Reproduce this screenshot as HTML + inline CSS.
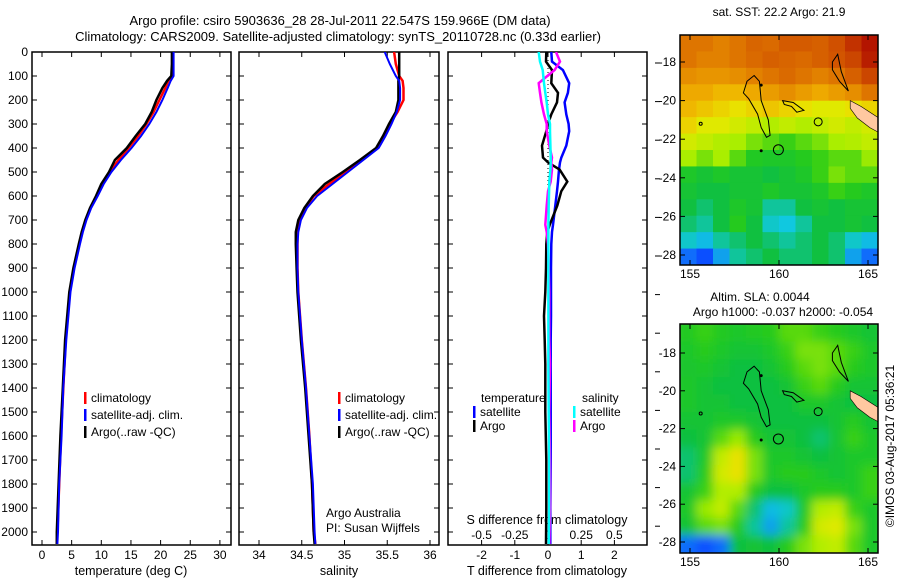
<!DOCTYPE html>
<html><head><meta charset="utf-8"><style>
html,body{margin:0;padding:0;background:#fff}
svg{display:block;font-family:"Liberation Sans",sans-serif}
</style></head><body>
<svg id="fig" width="900" height="580" viewBox="0 0 900 580">
<defs>
<clipPath id="clipTop"><rect x="680" y="35" width="198" height="230"/></clipPath>
<clipPath id="clipBot"><rect x="680" y="324" width="198" height="229"/></clipPath>
<clipPath id="clipP1"><rect x="32" y="52" width="199" height="493"/></clipPath>
<clipPath id="clipP2"><rect x="239" y="52" width="200" height="493"/></clipPath>
<clipPath id="clipP3"><rect x="448" y="52" width="199" height="493"/></clipPath>
<filter id="blur" x="-10%" y="-10%" width="120%" height="120%"><feGaussianBlur stdDeviation="5"/></filter>
</defs>
<g id="root"></g>
</svg>
<script>
// ---------- data ----------
const depths = [0,50,100,120,150,200,250,300,350,400,450,500,550,600,650,700,750,800,900,1000,1200,1400,1600,1800,2000,2050];
const tempClim = [22.0,22.0,21.9,21.3,20.8,19.8,18.8,17.6,16.2,14.6,12.9,11.4,10.2,9.2,8.2,7.4,6.8,6.3,5.4,4.7,4.0,3.6,3.2,2.9,2.6,2.5];
const tempSat  = [22.2,22.2,22.2,21.7,21.2,20.3,19.3,18.1,16.7,15.1,13.3,11.7,10.4,9.4,8.3,7.5,6.9,6.4,5.5,4.8,4.1,3.6,3.3,2.9,2.7,2.6];
const tempArgo = [21.9,21.9,21.8,21.1,20.3,19.3,18.5,17.4,15.8,14.3,12.3,11.3,10.0,9.1,8.1,7.3,6.7,6.2,5.3,4.6,3.9,3.5,3.1,2.8,2.5,2.5];
const salClim = [35.58,35.60,35.64,35.68,35.69,35.69,35.62,35.53,35.46,35.38,35.20,35.02,34.82,34.64,34.54,34.48,34.45,34.45,34.45,34.46,34.50,34.55,34.59,34.62,34.64,34.66];
const salSat  = [35.47,35.53,35.60,35.64,35.65,35.65,35.61,35.55,35.48,35.40,35.22,35.04,34.86,34.68,34.56,34.49,34.46,34.45,34.45,34.46,34.50,34.55,34.59,34.63,34.65,34.66];
const salArgo = [35.64,35.64,35.64,35.63,35.63,35.63,35.60,35.52,35.45,35.37,35.18,34.98,34.77,34.63,34.53,34.46,34.43,34.43,34.44,34.45,34.49,34.54,34.58,34.62,34.64,34.65];
const diffDepths = [0,40,75,130,170,210,260,300,330,390,440,460,490,540,580,640,720,750,800,900,1000,1100,1200,1300,1500,1700,1900,2050];
const tDiffSat  = [0.10,0.12,0.45,0.64,0.60,0.50,0.55,0.62,0.64,0.55,0.40,0.36,0.33,0.30,0.27,0.22,0.15,0.12,0.10,0.09,0.09,0.09,0.08,0.08,0.08,0.08,0.07,0.07];
const tDiffArgo = [-0.05,-0.06,0.12,0.10,0.30,0.27,0.10,0.00,-0.05,-0.18,-0.15,0.00,0.35,0.58,0.40,0.28,0.05,-0.02,-0.05,-0.06,-0.08,-0.12,-0.10,-0.08,-0.08,-0.05,-0.05,-0.06];
const sDiffSat  = [-0.07,-0.06,-0.04,-0.03,-0.02,-0.01,0.00,0.015,0.015,0.018,0.020,0.020,0.018,0.010,0.008,0.005,0.003,0.003,0.003,0.003,0.003,0.003,0.003,0.003,0.005,0.008,0.008,0.005];
const sDiffArgo = [0.06,0.09,0.05,-0.07,-0.06,-0.05,-0.03,-0.01,-0.01,0.01,0.03,0.025,0.03,0.02,0.00,-0.01,-0.02,-0.01,0.00,0.005,0.01,0.01,0.01,0.015,0.01,0.015,0.015,0.01];
const depthTicks = [0,100,200,300,400,500,600,700,800,900,1000,1100,1200,1300,1400,1500,1600,1700,1800,1900,2000];
const tempTicks = [0,5,10,15,20,25,30];
const salTicks = [34,34.5,35,35.5,36];
const salTickLabels = ["34","34.5","35","35.5","36"];
const tDiffTicks = [-2,-1,0,1,2];
const sDiffTicks = [-0.5,-0.25,0,0.25,0.5];
const sDiffTickLabels = ["-0.5","-0.25","0","0.25","0.5"];
const latTicks = [-18,-20,-22,-24,-26,-28];
const lonTicks = [155,160,165];
const sstGrid = [
[.80,.80,.78,.80,.83,.82,.85,.85,.84,.87,.90,.93],
[.80,.78,.78,.80,.82,.84,.83,.82,.84,.86,.88,.92],
[.76,.75,.75,.76,.78,.80,.82,.80,.78,.80,.84,.88],
[.72,.72,.70,.70,.72,.74,.76,.74,.72,.74,.76,.80],
[.70,.68,.66,.64,.66,.68,.66,.64,.62,.62,.64,.66],
[.66,.62,.62,.60,.58,.56,.58,.56,.58,.60,.58,.60],
[.60,.58,.56,.55,.52,.50,.48,.50,.52,.55,.56,.58],
[.55,.52,.55,.50,.45,.44,.44,.46,.48,.50,.50,.54],
[.44,.42,.44,.42,.42,.40,.42,.44,.48,.52,.50,.50],
[.42,.40,.40,.42,.42,.44,.42,.42,.44,.48,.46,.44],
[.40,.38,.40,.44,.42,.36,.36,.40,.42,.40,.42,.42],
[.38,.36,.40,.46,.40,.34,.33,.36,.40,.40,.42,.40],
[.34,.32,.36,.38,.40,.38,.36,.38,.40,.38,.34,.32],
[.26,.22,.30,.36,.38,.40,.38,.38,.40,.38,.30,.26]];
const slaGrid = [
[.45,.48,.45,.44,.45,.46,.50,.50,.48,.46,.44,.42],
[.44,.46,.44,.42,.42,.44,.48,.52,.52,.50,.48,.44],
[.43,.44,.42,.40,.40,.42,.46,.50,.52,.50,.46,.44],
[.44,.42,.40,.40,.40,.40,.42,.48,.50,.46,.42,.42],
[.44,.42,.42,.40,.40,.40,.40,.44,.44,.42,.40,.40],
[.42,.42,.44,.44,.42,.40,.40,.40,.40,.42,.46,.42],
[.40,.42,.50,.54,.46,.42,.42,.40,.38,.42,.48,.44],
[.38,.44,.58,.64,.52,.44,.44,.42,.40,.42,.44,.44],
[.38,.46,.60,.64,.52,.44,.46,.46,.44,.42,.44,.48],
[.42,.48,.56,.56,.46,.40,.40,.44,.46,.46,.44,.48],
[.44,.54,.58,.50,.38,.32,.34,.44,.56,.58,.48,.44],
[.42,.50,.52,.46,.36,.30,.36,.46,.60,.62,.52,.44],
[.26,.22,.26,.40,.42,.40,.46,.52,.56,.58,.50,.44]];
// ---------- helpers ----------
const NS="http://www.w3.org/2000/svg";
const root=document.getElementById('root');
function mk(tag,attrs,parent){const e=document.createElementNS(NS,tag);for(const k in attrs)e.setAttribute(k,attrs[k]);(parent||root).appendChild(e);return e;}
function txt(x,y,s,anchor,size,parent){const t=mk('text',{x:x,y:y,'text-anchor':anchor||'start','font-size':size||12,fill:'#000'},parent);t.textContent=s;return t;}
const yD=d=>52+d*0.24;
const xT=v=>42+v*5.93;
const xS=v=>259+(v-34)*85.5;
const xTd=v=>548+v*33.2;
const xSd=v=>548+v*4*33.2;
function line(xs,ys,color,w,parent,name){
  let p='';for(let i=0;i<xs.length;i++)p+=(i?'L':'M')+xs[i].toFixed(1)+','+ys[i].toFixed(1);
  const e=mk('path',{d:p,fill:'none',stroke:color,'stroke-width':w},parent);
  
  
  return e;}
// titles
let t=txt(340,25,'Argo profile: csiro 5903636_28 28-Jul-2011 22.547S 159.966E (DM data)','middle',13);


t=txt(338,41,'Climatology: CARS2009. Satellite-adjusted climatology: synTS_20110728.nc (0.33d earlier)','middle',13);


// panels
const panels=[[32,231,'temperature-panel'],[239,439,'salinity-panel'],[448,647,'difference-panel']];
panels.forEach(p=>{
  const g=mk('g',{});
  
  
  mk('rect',{x:p[0],y:52,width:p[1]-p[0],height:493,fill:'#fff',stroke:'#000','stroke-width':1.5},g);
  depthTicks.forEach(d=>{mk('line',{x1:p[0],x2:p[0]+5,y1:yD(d),y2:yD(d),stroke:'#000'},g);mk('line',{x1:p[1]-5,x2:p[1],y1:yD(d),y2:yD(d),stroke:'#000'},g);});
});
depthTicks.forEach(d=>{const e=txt(28,yD(d)+4,String(d),'end',12);
  
  });
for(let y=63;y<545;y+=38.6){mk('line',{x1:655,x2:660,y1:y,y2:y,stroke:'#000'});}
// x ticks
function xticks(vals,labels,fx,p,y0,name){vals.forEach((v,i)=>{const x=fx(v);
  mk('line',{x1:x,x2:x,y1:52,y2:57,stroke:'#000'});mk('line',{x1:x,x2:x,y1:540,y2:545,stroke:'#000'});
  const e=txt(x,y0,labels[i],'middle',12);
  
  });}
xticks(tempTicks,tempTicks.map(String),xT,0,559,'temperature-tick-label');
xticks(salTicks,salTickLabels,xS,1,559,'salinity-tick-label');
xticks(tDiffTicks,tDiffTicks.map(String),xTd,2,559,'t-diff-tick-label');
sDiffTicks.forEach((v,i)=>{const e=txt(xSd(v),539,sDiffTickLabels[i],'middle',12);
  
  });
[[131,'temperature (deg C)','x-axis-title-temperature'],[339,'salinity','x-axis-title-salinity'],[547,'T difference from climatology','x-axis-title-t-diff']].forEach(a=>{
  const e=txt(a[0],575,a[1],'middle',12.5);
  
  });
t=txt(547,524,'S difference from climatology','middle',12.5);


// series
const g1=mk('g',{'clip-path':'url(#clipP1)'});
const ys=depths.map(yD);
line(tempClim.map(xT),ys,'#ff0000',2.5,g1,'temperature-climatology-line');
line(tempArgo.map(xT),ys,'#000',2.5,g1,'temperature-argo-line');
line(tempSat.map(xT),ys,'#0000ff',2,g1,'temperature-satellite-line');
const g2=mk('g',{'clip-path':'url(#clipP2)'});
line(salClim.map(xS),ys,'#ff0000',2.5,g2,'salinity-climatology-line');
line(salArgo.map(xS),ys,'#000',2.5,g2,'salinity-argo-line');
line(salSat.map(xS),ys,'#0000ff',2,g2,'salinity-satellite-line');
const g3=mk('g',{'clip-path':'url(#clipP3)'});
mk('line',{x1:548,x2:548,y1:52,y2:320,stroke:'#000','stroke-dasharray':'1,3'},g3);
const yd=diffDepths.map(yD);
line(tDiffSat.map(xTd),yd,'#0000ff',2.5,g3,'t-diff-satellite-line');
line(tDiffArgo.map(xTd),yd,'#000',2.5,g3,'t-diff-argo-line');
line(sDiffArgo.map(xSd),yd,'#ff00ff',2.5,g3,'s-diff-argo-line');
line(sDiffSat.map(xSd),yd,'#00ffff',2.5,g3,'s-diff-satellite-line');
// legends
function legItem(x,y,color,label,name){const g=mk('g',{});
  
  
  mk('rect',{x:x,y:y-10,width:2.5,height:12,fill:color},g);txt(x+7,y,label,'start',12,g);}
legItem(84,402,'#ff0000','climatology','legend-entry-climatology');
legItem(84,419,'#0000ff','satellite-adj. clim.','legend-entry-satellite-adj');
legItem(84,436,'#000','Argo(..raw -QC)','legend-entry-argo');
legItem(338,402,'#ff0000','climatology','legend-entry-climatology-sal');
legItem(338,419,'#0000ff','satellite-adj. clim.','legend-entry-satellite-adj-sal');
legItem(338,436,'#000','Argo(..raw -QC)','legend-entry-argo-sal');
t=txt(481,402,'temperature','start',12);


t=txt(582,402,'salinity','start',12);


legItem(473,416,'#0000ff','satellite','legend-entry-t-satellite');
legItem(473,430,'#000','Argo','legend-entry-t-argo');
legItem(573,416,'#00ffff','satellite','legend-entry-s-satellite');
legItem(573,430,'#ff00ff','Argo','legend-entry-s-argo');
t=txt(326,517,'Argo Australia','start',12);


t=txt(326,532,'PI: Susan Wijffels','start',12);


// ---------- maps ----------
const stops=[[0.15,[0,40,255]],[0.25,[16,96,255]],[0.33,[16,200,224]],[0.40,[16,192,64]],[0.47,[40,204,24]],[0.55,[170,238,0]],[0.63,[232,232,0]],[0.71,[240,176,0]],[0.79,[224,122,0]],[0.87,[208,80,0]],[0.95,[170,0,0]]];
function cmap(v){if(v<=stops[0][0])return 'rgb('+stops[0][1]+')';
  for(let i=1;i<stops.length;i++){if(v<=stops[i][0]){const a=stops[i-1],b=stops[i],f=(v-a[0])/(b[0]-a[0]);
    const c=a[1].map((x,k)=>Math.round(x+(b[1][k]-x)*f));return 'rgb('+c+')';}}
  return 'rgb('+stops[stops.length-1][1]+')';}
function drawMap(grid,top,bottom,lat18y,pxPerDeg,name,blur,clip){
  const g=mk('g',{});
  
  
  const gi=mk('g',{'clip-path':'url(#'+clip+')'},g);
  const gc=mk('g',blur?{filter:'url(#blur)'}:{},gi);
  const rows=grid.length,cols=grid[0].length,cw=198/cols,ch=(bottom-top)/rows;
  grid.forEach((r,i)=>r.forEach((v,j)=>{
    const c=mk('rect',{x:680+j*cw-(blur?8*(j==0):0),y:top+i*ch-(blur?8*(i==0):0),width:cw+0.6+(blur?8*(j==0||j==cols-1):0),height:ch+0.6+(blur?8*(i==0||i==rows-1):0),fill:cmap(v)},gc);
    
    }));
  const lx=lon=>690+(lon-155)*17.8, ly=lat=>lat18y+(-18-lat)*pxPerDeg;
  const P=pts=>pts.map((p,i)=>(i?'L':'M')+lx(p[0]).toFixed(1)+','+ly(p[1]).toFixed(1)).join('')+'Z';
  mk('path',{d:P([[164.0,-20.0],[164.6,-20.3],[165.6,-20.9],[165.7,-21.7],[165.1,-21.4],[164.4,-20.9],[164.0,-20.4]]),fill:'#ffc8a0',stroke:'#000','stroke-width':0.6},gi);
  mk('path',{d:P([[158.6,-18.7],[158.9,-19.0],[159.0,-20.0],[159.4,-21.0],[159.5,-21.8],[159.3,-21.9],[159.0,-21.4],[158.8,-20.7],[158.3,-19.9],[158.0,-19.6],[158.2,-19.0]]),fill:'none',stroke:'#000','stroke-width':1},gi);
  mk('path',{d:P([[160.2,-20.0],[160.8,-20.1],[161.4,-20.5],[161.0,-20.6],[160.7,-20.3],[160.3,-20.2]]),fill:'none',stroke:'#000','stroke-width':1},gi);
  mk('path',{d:P([[163.0,-18.0],[163.3,-17.6],[163.5,-18.5],[163.9,-19.5],[163.4,-19.0],[163.0,-18.4]]),fill:'none',stroke:'#000','stroke-width':1},gi);
  mk('circle',{cx:lx(162.2),cy:ly(-21.1),r:4,fill:'none',stroke:'#000'},gi);
  mk('circle',{cx:lx(155.6),cy:ly(-21.2),r:1.5,fill:'none',stroke:'#000'},gi);
  mk('circle',{cx:lx(159.0),cy:ly(-22.6),r:1.5,fill:'#000'},gi);
  mk('circle',{cx:lx(159.0),cy:ly(-19.2),r:1.5,fill:'#000'},gi);
  const ac=mk('circle',{cx:lx(159.966),cy:ly(-22.547),r:5,fill:'none',stroke:'#000'},gi);
  
  
  mk('rect',{x:680,y:top,width:198,height:bottom-top,fill:'none',stroke:'#000','stroke-width':1.5},g);
  latTicks.forEach(l=>{const y=ly(l);mk('line',{x1:680,x2:685,y1:y,y2:y,stroke:'#000'},g);mk('line',{x1:873,x2:878,y1:y,y2:y,stroke:'#000'},g);
    const e=txt(676,y+4,String(l),'end',12,g);
    
    });
  lonTicks.forEach(l=>{const x=lx(l);mk('line',{x1:x,x2:x,y1:top,y2:top+5,stroke:'#000'},g);mk('line',{x1:x,x2:x,y1:bottom-5,y2:bottom,stroke:'#000'},g);
    const e=txt(x,bottom+13,String(l),'middle',12,g);
    
    });
}
drawMap(sstGrid,35,265,62,19.3,'sst-map',false,'clipTop');
drawMap(slaGrid,324,553,353,18.9,'sla-map',true,'clipBot');
t=txt(779,16,'sat. SST: 22.2 Argo: 21.9','middle',12);


t=txt(760,301,'Altim. SLA: 0.0044','middle',12);


t=txt(783,316,'Argo h1000: -0.037 h2000: -0.054','middle',12);


t=txt(0,0,'©IMOS 03-Aug-2017 05:36:21','middle',12);
t.setAttribute('transform','translate(894,446) rotate(-90)');


</script>
</body></html>
